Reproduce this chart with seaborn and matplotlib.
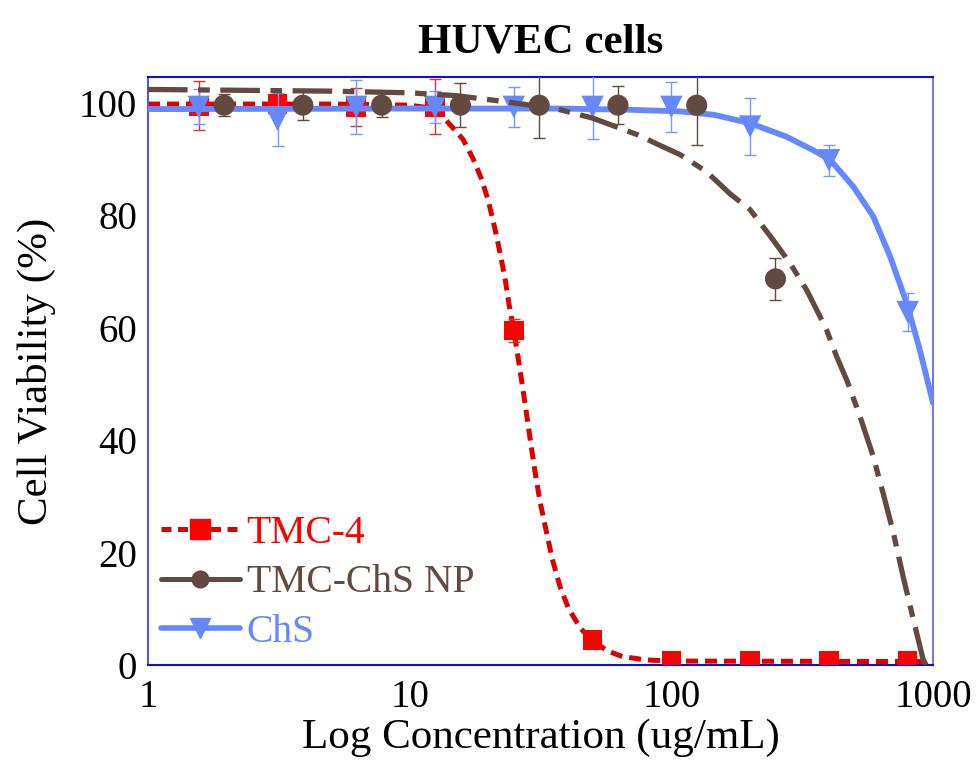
import numpy as np
import pandas as pd
import matplotlib
matplotlib.use('Agg')
import matplotlib.pyplot as plt
from matplotlib.lines import Line2D
import seaborn as sns

# measured points
conc_a = [1.5625, 3.125, 6.25, 12.5, 25, 50, 100, 200, 400, 800]
conc_b = [1.953125, 3.90625, 7.8125, 15.625, 31.25, 62.5, 125, 250]

tmc4 = [99.5, 99.8, 99.3, 99.3, 59.5, 4.5, 0.8, 0.8, 0.8, 0.7]
tmc4_err = [4.4, 1.0, 3.4, 4.9, 2.0, 0.5, 0.5, 1.5, 1.5, 0.5]

tmc_np = [99.6, 99.6, 99.6, 99.6, 99.6, 99.6, 99.6, 68.7]
tmc_np_err = [2.0, 2.6, 2.1, 3.9, 5.9, 3.4, 7.1, 3.7]

chs = [99.3, 97.0, 99.3, 99.3, 99.3, 99.3, 99.3, 95.8, 89.8, 62.8]
chs_err = [3.1, 4.7, 4.8, 2.9, 3.5, 5.8, 4.4, 5.1, 2.8, 3.4]

# fitted curves
fit_tmc4_x = [1, 5, 10, 12.5, 13.6, 15, 16, 17.5, 18.8, 20, 21.2, 22.1, 23.1, 24, 25,
              26.4, 27.6, 28.8, 30.1, 31.5, 33.2, 35, 37.5, 40.5, 45, 50, 57, 65, 80, 100, 1000]
fit_tmc4_y = [99.8, 99.8, 99.6, 99.0, 97.2, 95, 93.5, 90, 86.5, 82.5, 77.5, 73.5, 69, 64, 59.5,
              52.5, 46.5, 40.5, 34.5, 29, 24, 19, 14, 10, 6.5, 4.3, 2.5, 1.5, 0.9, 0.7, 0.6]

fit_np_x = [1, 5, 10, 15, 20, 30, 37.5, 50, 73.7, 90, 108, 136, 167, 200, 245, 284, 329, 359,
            392, 428, 468, 526, 590, 645, 703, 768, 838, 915, 940]
fit_np_y = [102.4, 102.1, 101.8, 101.3, 100.6, 99.5, 98.8, 97.3, 94.4, 92.5, 90.8, 87.8, 83.9,
            81.0, 75.6, 71.5, 66.7, 63.2, 59.6, 54.9, 50.7, 44.2, 37.2, 30.5, 23.8, 15.8, 8.4,
            1.1, 0.0]

fit_chs_x = [1, 10, 37.5, 67.6, 108, 145, 200, 275, 348, 404, 496, 591, 685, 793, 891, 1000]
fit_chs_y = [98.9, 99.0, 99.0, 98.8, 98.5, 97.9, 96.4, 94.0, 91.6, 89.9, 85.1, 79.8, 72.7,
             64.4, 56.0, 46.6]

labels = ['TMC-4', 'TMC-ChS NP', 'ChS']
colors = ['#ff0000', '#624a40', '#6688ff']
line_colors = ['#dd0000', '#624a40', '#6688ff']
err_colors = ['#e03030', '#624a40', '#7799ff']

sns.set_style('white')
plt.rcParams['font.family'] = ['Liberation Serif', 'DejaVu Serif']
plt.rcParams['text.color'] = 'black'
plt.rcParams['axes.labelcolor'] = 'black'
plt.rcParams['xtick.color'] = 'black'
plt.rcParams['ytick.color'] = 'black'

fig = plt.figure(figsize=(9.77, 7.67), dpi=100)
ax = fig.add_axes([0.1515, 0.133, 0.8035, 0.7665])

# curves
sns.lineplot(x=fit_tmc4_x, y=fit_tmc4_y, ax=ax, color=line_colors[0], lw=3.6,
             zorder=2).lines[-1].set_dashes((2.4, 1.4))
sns.lineplot(x=fit_chs_x, y=fit_chs_y, ax=ax, color=line_colors[2], lw=4.2, zorder=3)
sns.lineplot(x=fit_np_x, y=fit_np_y, ax=ax, color=line_colors[1], lw=3.8,
             zorder=4).lines[-1].set_dashes((7.5, 2, 2.2, 2))

# points with error bars
ax.errorbar(conc_a, tmc4, yerr=tmc4_err, fmt='none', ecolor=err_colors[0], elinewidth=1.0,
            capsize=4, capthick=1.0, zorder=2.5)
ax.errorbar(conc_a, chs, yerr=chs_err, fmt='none', ecolor=err_colors[2], elinewidth=1.0,
            capsize=4, capthick=1.0, zorder=3.5)
ax.errorbar(conc_b, tmc_np, yerr=tmc_np_err, fmt='none', ecolor=err_colors[1], elinewidth=1.0,
            capsize=4, capthick=1.0, zorder=4.5)
sns.scatterplot(x=conc_a, y=tmc4, ax=ax, marker='s', s=200, color=colors[0],
                edgecolor='none', zorder=2.6)
sns.scatterplot(x=conc_a, y=chs, ax=ax, marker='v', s=260, color=colors[2],
                edgecolor='none', zorder=3.6)
sns.scatterplot(x=conc_b, y=tmc_np, ax=ax, marker='o', s=230, color=colors[1],
                edgecolor='none', zorder=4.6)

ax.set_xscale('log')
ax.set_xlim(1, 1000)
ax.set_ylim(0, 104.6)
ax.set_yticks([0, 20, 40, 60, 80, 100])
ax.set_xticks([1, 10, 100, 1000])
ax.set_xticklabels(['1', '10', '100', '1000'])
ax.minorticks_off()
ax.tick_params(length=0, labelsize=28)
ax.tick_params(axis='x', pad=10)
ax.tick_params(axis='y', pad=8)

ax.set_title('HUVEC cells', fontsize=31, fontweight='bold', pad=18)
ax.set_xlabel('Log Concentration (ug/mL)', fontsize=31, labelpad=2)
ax.set_ylabel('Cell Viability (%)', fontsize=31, labelpad=16)

ax.spines['top'].set_color('#1111cc')
ax.spines['bottom'].set_color('#1111cc')
ax.spines['left'].set_color('#5555dd')
ax.spines['right'].set_color('#7777ee')
for s in ax.spines.values():
    s.set_linewidth(1.5)

handles = [
    Line2D([], [], color=line_colors[0], lw=3.6, dashes=(2, 1.3), marker='s', ms=14,
           markerfacecolor=colors[0], markeredgecolor=colors[0]),
    Line2D([], [], color=line_colors[1], lw=3.6, marker='o', ms=12,
           markerfacecolor=colors[1], markeredgecolor=colors[1]),
    Line2D([], [], color=line_colors[2], lw=4.0, marker='v', ms=14,
           markerfacecolor=colors[2], markeredgecolor=colors[2]),
]
leg = ax.legend(handles, labels, loc='lower left', frameon=False, fontsize=28.5,
                handlelength=2.0, handletextpad=0.17, labelspacing=0.31,
                borderaxespad=0.2, bbox_to_anchor=(-0.014, -0.016))
for txt, c in zip(leg.get_texts(), colors):
    txt.set_color(c)

fig.savefig('out.png', dpi=100)
